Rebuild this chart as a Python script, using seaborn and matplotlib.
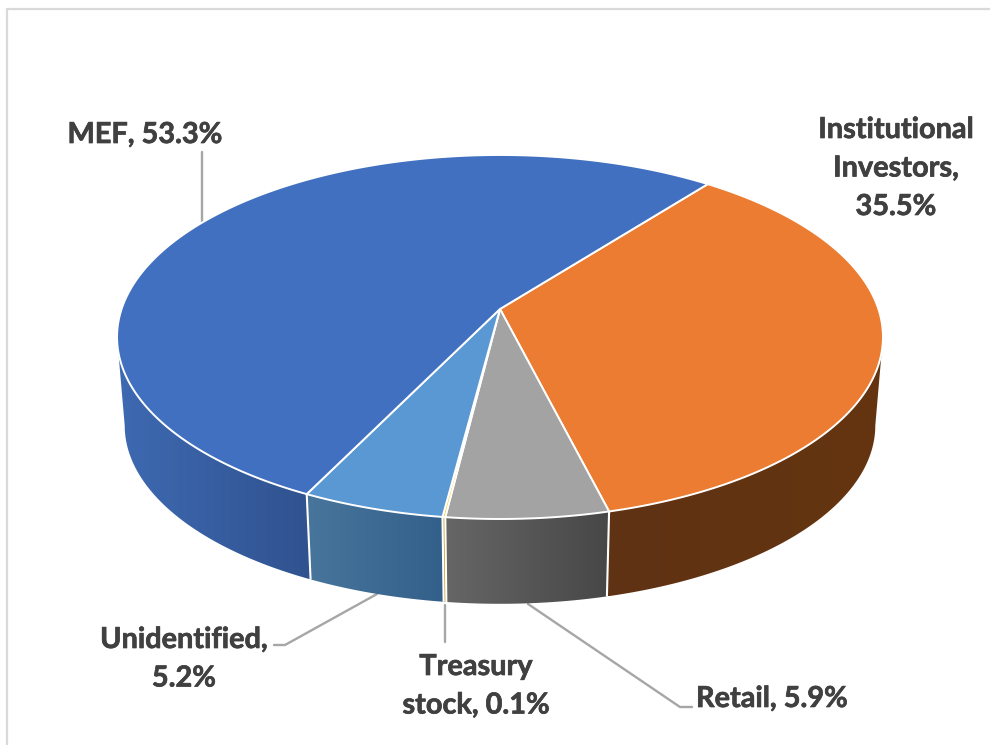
"""3D-look ownership pie, drawn as projected wedges on a pixel-sized axes."""

import matplotlib
matplotlib.use("Agg")
import matplotlib.patheffects as pe
import matplotlib.pyplot as plt
from matplotlib.colors import to_rgb
from matplotlib.patches import Polygon
import numpy as np
import seaborn as sns

# clockwise from the first slice's start angle
categories = ["Institutional\nInvestors,\n", "Retail, ", "Treasury\nstock, ", "Unidentified,\n", "MEF, "]
shares = [35.5, 5.9, 0.1, 5.2, 53.3]

top_colors = ["#EB7C31", "#A3A3A3", "#FFC000", "#5A98D4", "#4170C0"]
side_left = ["#5F3214", "#666666", "#C09000", "#47759B", "#3E6AB2"]
side_right = ["#64350F", "#474747", "#C09000", "#33608A", "#30528F"]

START_ANGLE = 38.0
CX, CY = 500.0, 309.0      # apex of the pie in pixels
A, B, K = 378.4, 177.7, 0.1538  # perspective ellipse
DEPTH = 89.0
BOTTOM_SCALE = 0.98
TEXT_COLOR = "#404040"
LEADER = "#A6A6A6"
EDGE = "#FFFFFF"
LINE_STEP = 38.5


def project(theta, scale=1.0, drop=0.0):
    """theta in degrees clockwise from the top of the pie -> pixel coordinates."""
    t = np.radians(theta)
    s, c = np.cos(t), np.sin(t)  # s: toward the back, c: toward the right
    w = 1 + K * s
    return CX + scale * A * c / w, CY + drop - scale * B * s / w


sns.set_theme(style="white")
plt.rcParams["font.family"] = ["Lato", "DejaVu Sans"]

fig = plt.figure(figsize=(9.9, 7.45), dpi=100)
ax = fig.add_axes([0, 0, 1, 1])
ax.axis("off")

# frame of the original chart area
ax.plot([7, 7, 990], [745, 9, 9], color="#D9D9D9", lw=1.6, zorder=1)

edges = START_ANGLE + np.cumsum([0] + [v * 3.6 for v in shares])

# side walls: a horizontal colour ramp clipped to each slice's wall
# the wall ends where the rim is widest on screen
rim = np.degrees(np.arccos(-K))
for i, (a0, a1) in enumerate(zip(edges[:-1], edges[1:])):
    th = np.clip(np.linspace(a0, a1, max(int((a1 - a0) * 2), 2) + 1), rim, 360 - rim)
    x0, y0 = project(th)
    x1, y1 = project(th, BOTTOM_SCALE, DEPTH)
    pts = np.column_stack([np.r_[x0, x1[::-1]], np.r_[y0, y1[::-1]]])
    lo, hi = pts[:, 0].min(), pts[:, 0].max()
    ramp = np.linspace(to_rgb(side_left[i]), to_rgb(side_right[i]), 256)[None, :, :]
    im = ax.imshow(ramp, extent=(lo, max(hi, lo + 1), pts[:, 1].max(), pts[:, 1].min()),
                   aspect="auto", interpolation="bilinear", zorder=2)
    clip = Polygon(pts, closed=True, transform=ax.transData)
    im.set_clip_path(clip)

# white dividers on the wall
for a in edges[:-1]:
    if np.cos(np.radians(a)) < 0:
        x0, y0 = project(a)
        x1, y1 = project(a, BOTTOM_SCALE, DEPTH)
        ax.plot([x0, x1], [y0, y1], color=EDGE, lw=1.5, zorder=3, solid_capstyle="butt")

# top face
for i, (a0, a1) in enumerate(zip(edges[:-1], edges[1:])):
    th = np.linspace(a0, a1, max(int((a1 - a0) * 2), 2) + 1)
    x, y = project(th)
    pts = np.column_stack([np.r_[CX, x], np.r_[CY, y]])
    ax.add_patch(Polygon(pts, closed=True, facecolor=top_colors[i], edgecolor=EDGE, lw=1.4, zorder=4))

# leader lines
leaders = [
    ([202, 202], [152, 222]),
    ([274, 285, 377], [645, 645, 594]),
    ([445, 445], [605, 642]),
    ([528, 680, 692], [604, 707, 707]),
]
for lx, ly in leaders:
    ax.plot(lx, ly, color=LEADER, lw=1.7, zorder=1.5)

# data labels, line by line (x centre, first baseline)
label_pos = [(896, 138), (772, 707), (476, 675), (184, 648), (145, 143)]
for name, val, (px, py) in zip(categories, shares, label_pos):
    for j, line in enumerate(f"{name}{val:.1f}%".split("\n")):
        ax.text(px, py + j * LINE_STEP, line, ha="center", va="baseline", fontsize=20.8,
                fontweight="bold", color=TEXT_COLOR, zorder=5,
                path_effects=[pe.withStroke(linewidth=0.5, foreground=TEXT_COLOR)])

ax.set_xlim(0, 990)
ax.set_ylim(745, 0)
fig.savefig("out.png", dpi=100, facecolor="white")
